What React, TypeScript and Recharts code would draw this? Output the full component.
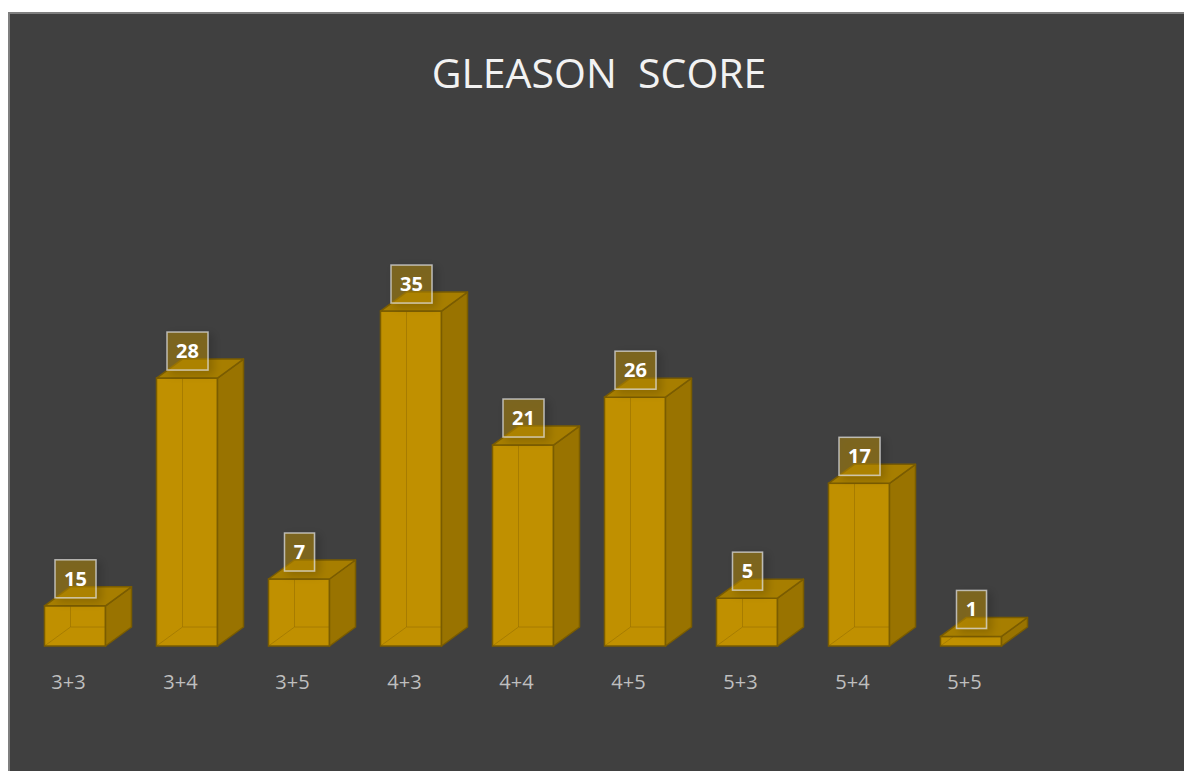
import React from "react";
import { BarChart, Bar, XAxis, YAxis, LabelList } from "recharts";

// Gleason score categories
const categories = ["3+3", "3+4", "3+5", "4+3", "4+4", "4+5", "5+3", "5+4", "5+5"];
// Data labels shown on the chart
const labelValues = [15, 28, 7, 35, 21, 26, 5, 17, 1];
// Bar heights as drawn in the picture (the 3+3 bar is drawn much shorter than its label)
const barValues = [4.2, 28, 7, 35, 21, 26, 5, 17, 1];

const data = categories.map((c, i) => ({ cat: c, value: barValues[i], label: labelValues[i] }));

const DX = 26;
const DY = 19;
const FONT = "'Open Sans', 'Noto Sans', sans-serif";

const Box3D = (props: any) => {
  const { x, y, width: w, height: h } = props;
  if (w == null || h == null) return null;
  const stroke = "#7A5C00";
  const hidden = "rgba(150,112,0,0.6)";
  return (
    <g>
      <rect x={x} y={y} width={w} height={h} fill="#C09000" />
      {/* hidden back edges (visible through translucent faces) */}
      <line x1={x + DX} y1={y - DY} x2={x + DX} y2={y + h - DY} stroke={hidden} strokeWidth={1} />
      <line x1={x + DX} y1={y + h - DY} x2={x + w + DX} y2={y + h - DY} stroke={hidden} strokeWidth={1} />
      <line x1={x} y1={y + h} x2={x + DX} y2={y + h - DY} stroke={hidden} strokeWidth={1} />
      <rect x={x} y={y} width={w} height={h} fill="none" stroke={stroke} strokeWidth={1.5} />
      <polygon
        points={`${x + w},${y} ${x + w + DX},${y - DY} ${x + w + DX},${y + h - DY} ${x + w},${y + h}`}
        fill="#997300"
        stroke={stroke}
        strokeWidth={1.5}
        strokeLinejoin="round"
      />
      <polygon
        points={`${x},${y} ${x + DX},${y - DY} ${x + w + DX},${y - DY} ${x + w},${y}`}
        fill="#A77E00"
        stroke={stroke}
        strokeWidth={1.5}
        strokeLinejoin="round"
      />
    </g>
  );
};

const LabelBox = (props: any) => {
  const { x, y, width, value } = props;
  const text = String(value);
  const bw = text.length > 1 ? 41 : 30;
  const bh = 38;
  const cx = x + width / 2 + 0.5;
  const bottom = y - 8;
  return (
    <g>
      <rect
        x={cx - bw / 2}
        y={bottom - bh}
        width={bw}
        height={bh}
        fill="rgba(191,144,0,0.45)"
        stroke="rgba(220,220,220,0.75)"
        strokeWidth={1.5}
        filter="url(#lblShadow)"
      />
      <text
        x={cx}
        y={bottom - bh / 2 + 7}
        textAnchor="middle"
        fill="#FFFFFF"
        fontFamily={FONT}
        fontWeight={700}
        fontSize={20}
      >
        {text}
      </text>
    </g>
  );
};

const Tick = (props: any) => {
  const { x, y, payload } = props;
  return (
    <text x={x - 6} y={y + 43} textAnchor="middle" fill="#BFBFBF" fontFamily={FONT} fontSize={20}>
      {payload.value}
    </text>
  );
};

export default function App() {
  const W = 1196;
  const H = 776;
  return (
    <div
      style={{
        position: "relative",
        top: 4,
        width: 1200,
        height: 780,
        background: "#404040",
        border: "2px solid #7F7F7F",
        boxSizing: "border-box",
      }}
    >
      <svg width={0} height={0} style={{ position: "absolute" }}>
        <defs>
          <filter id="lblShadow" x="-50%" y="-50%" width="200%" height="200%">
            <feDropShadow dx={4} dy={3} stdDeviation={4} floodColor="#000" floodOpacity={0.35} />
          </filter>
        </defs>
      </svg>
      <div style={{ position: "absolute", left: 0, top: 0 }}>
        <BarChart
          width={W}
          height={H}
          data={data}
          margin={{ top: 249.2, right: 179.5, bottom: 114, left: 8.5 }}
          barSize={61}
        >
          <YAxis hide domain={[0, 40]} />
          <XAxis
            dataKey="cat"
            axisLine={false}
            tickLine={false}
            tickSize={0}
            tickMargin={0}
            height={30}
            tick={<Tick />}
            interval={0}
          />
          <Bar dataKey="value" isAnimationActive={false} shape={<Box3D />}>
            <LabelList dataKey="label" content={<LabelBox />} />
          </Bar>
        </BarChart>
      </div>
      <svg
        width={W}
        height={120}
        style={{ position: "absolute", left: 0, top: 0, pointerEvents: "none" }}
      >
        <text x={589} y={74} textAnchor="middle" fill="#F2F2F2" fontFamily={FONT} fontSize={41}>
          {"GLEASON\u00A0\u00A0SCORE"}
        </text>
      </svg>
    </div>
  );
}
